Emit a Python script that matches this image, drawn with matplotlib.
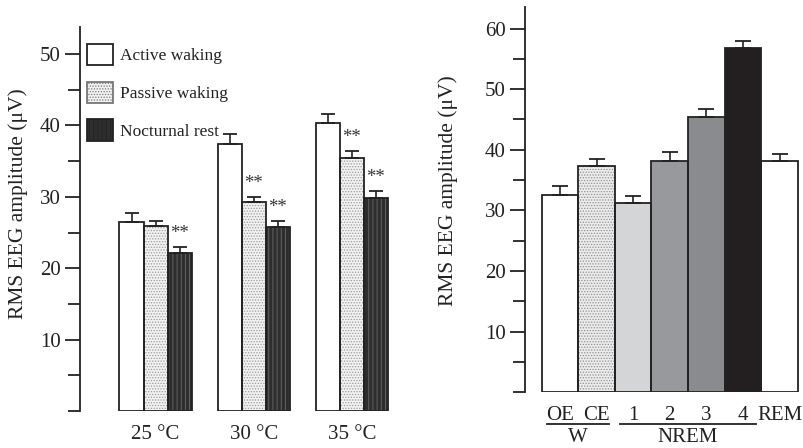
import matplotlib
matplotlib.use("Agg")
import matplotlib.pyplot as plt
from matplotlib.lines import Line2D
from matplotlib.patches import Patch
import numpy as np

plt.rcParams['font.family'] = ['Liberation Serif', 'DejaVu Serif']
plt.rcParams['hatch.linewidth'] = 0.6

# Left panel: amplitude by ambient temperature
temps = ["25 °C", "30 °C", "35 °C"]
states = ["Active waking", "Passive waking", "Nocturnal rest"]
active = [26.5, 37.4, 40.3]
active_err = [1.3, 1.35, 1.35]
passive = [25.9, 29.3, 35.4]
passive_err = [0.75, 0.7, 1.05]
nocturnal = [22.2, 25.8, 29.9]
nocturnal_err = [0.8, 0.85, 0.95]
# significance marks (per state, per temperature)
sig_passive = [False, True, True]
sig_nocturnal = [True, True, True]

# Right panel: amplitude by vigilance state
stages = ["OE", "CE", "1", "2", "3", "4", "REM"]
stage_vals = [32.5, 37.35, 31.25, 38.2, 45.4, 56.8, 38.1]
stage_err = [1.6, 1.1, 1.1, 1.4, 1.3, 1.15, 1.2]
stage_colors = ["white", "#ececec", "#d4d5d7", "#98999c", "#8a8b8e", "#231f20", "white"]
stage_hatch = [None, "......", None, None, None, None, None]
groups = [("W", 0, 1), ("NREM", 2, 5)]

fig = plt.figure(figsize=(8.04, 4.48), dpi=100)

FS = 15
LABEL_FS = 15.5
EDGE_LW = 1.3
INK = "#222222"


def hatched_bars(ax, x, h, width, face, hatch, hatch_color):
    ax.bar(x, h, width, color=face, hatch=hatch, edgecolor=hatch_color,
           linewidth=0, zorder=2)
    ax.bar(x, h, width, fill=False, edgecolor=INK,
           linewidth=EDGE_LW, zorder=3)


def style_axis(ax):
    for s in ("top", "right", "bottom"):
        ax.spines[s].set_visible(False)
    ax.spines["left"].set_linewidth(1.3)
    ax.spines["left"].set_color(INK)
    ax.tick_params(axis="y", direction="out", length=11, width=1.3,
                   color=INK, labelsize=FS, pad=3, labelcolor=INK)
    ax.tick_params(axis="y", which="minor", direction="out", length=9,
                   width=1.3, color=INK)
    ax.tick_params(axis="x", length=0, labelsize=FS, labelcolor=INK)


# ---- left panel ----
axL = fig.add_axes([80 / 804, 1 - 411 / 448, 316 / 804, (411 - 27) / 448])
w = 0.245
x = np.arange(len(temps))
series = [
    (active, active_err, "white", None, "white"),
    (passive, passive_err, "#f2f2f2", "......", "#9a9a9a"),
    (nocturnal, nocturnal_err, "#2e2e2e", "||||", "#6a6a6a"),
]
for i, (vals, errs, face, hatch, hc) in enumerate(series):
    xs = x + (i - 1) * w
    hatched_bars(axL, xs, vals, w, face, hatch, hc)
    axL.errorbar(xs, vals, yerr=[np.zeros(len(vals)), errs], fmt="none",
                 ecolor=INK, elinewidth=1.2, capsize=5, capthick=1.3,
                 zorder=4)

for i, (vals, errs, sig) in enumerate([(passive, passive_err, sig_passive),
                                        (nocturnal, nocturnal_err, sig_nocturnal)]):
    for j in range(len(temps)):
        if sig[j]:
            axL.text(x[j] + i * w, vals[j] + errs[j] + 0.7, "**",
                     ha="center", va="bottom", fontsize=13.5, color="#333333")

axL.set_xlim(-0.77, 2.45)
axL.set_ylim(0, 53.8)
axL.set_yticks([10, 20, 30, 40, 50])
axL.set_yticks([0, 5, 15, 25, 35, 45], minor=True)
axL.set_xticks(x)
axL.set_xticklabels(temps)
style_axis(axL)
axL.tick_params(axis="x", pad=10)
axL.set_ylabel("RMS EEG amplitude (μV)", fontsize=LABEL_FS, color=INK)
axL.yaxis.set_label_coords(-0.165, 0.54)

handles = [
    Patch(facecolor="white", edgecolor=INK, linewidth=EDGE_LW),
    Patch(facecolor="#f2f2f2", edgecolor="#777777", hatch="......", linewidth=EDGE_LW),
    Patch(facecolor="#2e2e2e", edgecolor=INK, hatch="||||", linewidth=EDGE_LW),
]
leg = axL.legend(handles, states, loc="upper left", bbox_to_anchor=(-0.015, 0.987),
                 frameon=False, fontsize=12.5, handlelength=1.45,
                 handleheight=1.5, labelspacing=0.95, handletextpad=0.45,
                 borderaxespad=0.3)
for t in leg.get_texts():
    t.set_color(INK)

# ---- right panel ----
axR = fig.add_axes([525 / 804, 1 - 392.3 / 448, 275 / 804, (392.3 - 7.3) / 448])
xr = np.arange(len(stages))
for k in range(len(stages)):
    hc = "#8f8f8f" if stage_hatch[k] else stage_colors[k]
    hatched_bars(axR, xr[k], stage_vals[k], 1.0, stage_colors[k],
                 stage_hatch[k], hc)
axR.errorbar(xr, stage_vals, yerr=[np.zeros(len(stages)), stage_err],
             fmt="none", ecolor=INK, elinewidth=1.2, capsize=6,
             capthick=1.3, zorder=4)
axR.set_xlim(-0.956, 6.56)
axR.set_ylim(0, 63.5)
axR.set_yticks([10, 20, 30, 40, 50, 60])
axR.set_yticks([0, 5, 15, 25, 35, 45, 55], minor=True)
axR.set_xticks(xr)
axR.set_xticklabels(stages)
style_axis(axR)
axR.tick_params(axis="x", pad=10)
axR.set_ylabel("RMS EEG amplitude (μV)", fontsize=LABEL_FS, color=INK)
axR.yaxis.set_label_coords(-0.244, 0.525)

# group underlines and names beneath the stage labels
trans = axR.get_xaxis_transform()
for name, a, b in groups:
    axR.add_line(Line2D([a - 0.35, b + 0.35], [-0.082, -0.082], transform=trans,
                        color=INK, linewidth=1.3, clip_on=False))
    axR.text((a + b) / 2, -0.092, name, transform=trans, ha="center",
             va="top", fontsize=FS, color=INK)

fig.savefig("out.png", dpi=100)
